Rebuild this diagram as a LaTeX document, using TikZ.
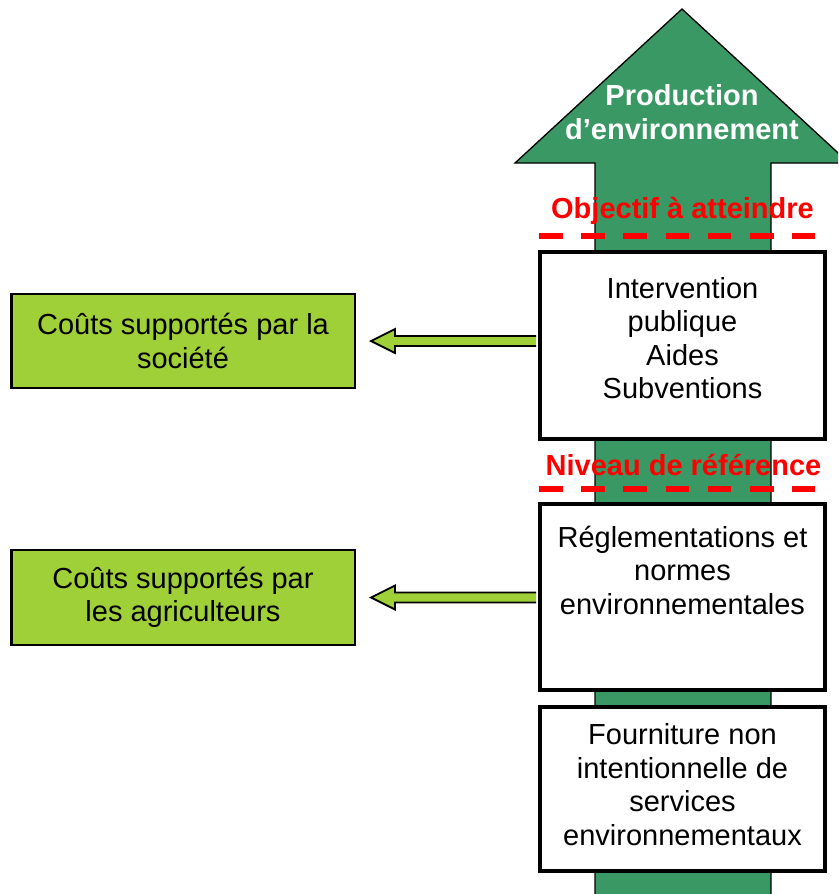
\documentclass[tikz,border=0pt]{standalone}
\usepackage{fontspec}
\setmainfont{Liberation Sans}
\usetikzlibrary{calc}
\definecolor{arrowgreen}{RGB}{58,152,100}
\definecolor{limefill}{RGB}{160,208,56}
\definecolor{redlbl}{RGB}{255,0,0}
\begin{document}
\begin{tikzpicture}[x=1pt,y=-1pt,
  box/.style={draw=black, line width=4pt, fill=white, minimum width=285pt, inner sep=0pt},
  boxtext/.style={align=center, inner sep=0pt, font=\fontsize{29}{33.5}\selectfont},
  costbox/.style={draw=black, line width=2.5pt, fill=limefill, minimum width=343.5pt,
    minimum height=94pt, inner sep=0pt, align=center, font=\fontsize{29}{33.5}\selectfont},
  titletext/.style={align=center, inner sep=0pt, text=white, font=\bfseries\fontsize{29}{34}\selectfont},
  lvl/.style={inner sep=0pt, text=redlbl, font=\bfseries\fontsize{29}{34}\selectfont},
  lvldash/.style={draw=redlbl, line width=6pt, dash pattern=on 23.5pt off 18.7pt},
  fatfill/.style={fill=limefill},
  fatline/.style={draw=black, line width=1.8pt, line join=miter}]
\useasboundingbox (0,0) rectangle (838,894);
% big upward arrow
\begin{scope}
  \clip (0,0) rectangle (838,894);
  \filldraw[fill=arrowgreen, draw=black, line width=1.3pt]
    (595,900) -- (595,163) -- (515,163) -- (682,9) -- (849,163) -- (771,163) -- (771,900) -- cycle;
\end{scope}
\node[titletext] (prod) at (682,112.5) {Production\\d’environnement};
% level labels and dashed lines
\node[lvl] (obj) at (682.5,210.5) {Objectif à atteindre};
\coordinate (objL) at (539,236);
\coordinate (objR) at (815,236);
\draw[lvldash] (objL) -- (objR);
\node[lvl] (niv) at (683.5,465) {Niveau de référence};
\coordinate (nivL) at (539,489);
\coordinate (nivR) at (815,489);
\draw[lvldash] (nivL) -- (nivR);
% right boxes
\node[box, minimum height=187pt] (b1) at (682.5,345.5) {};
\node[boxtext] (t1) at (682.5,338) {Intervention\\publique\\Aides\\Subventions};
\node[box, minimum height=186pt] (b2) at (682.5,597) {};
\node[boxtext] (t2) at (682.5,570) {Réglementations et\\normes\\environnementales};
\node[box, minimum height=164pt] (b3) at (682.5,789) {};
\node[boxtext] (t3) at (682.5,784.5) {Fourniture non\\intentionnelle de\\services\\environnementaux};
% left cost boxes
\node[costbox] (l1) at (183,341) {Coûts supportés par la\\société};
\node[costbox, minimum height=95pt] (l2) at (183,597.5) {Coûts supportés par\\les agriculteurs};
% fat arrows from right boxes to cost boxes
\foreach \src/\dst in {b1/l1, b2/l2}{
  \path let \p1=(\src.west), \p2=(\dst.east) in
    [fatfill] (\x1-2pt,\y2+5pt) -- (\x2+39pt,\y2+5pt) -- (\x2+39pt,\y2+12pt) -- (\x2+15pt,\y2)
      -- (\x2+39pt,\y2-12pt) -- (\x2+39pt,\y2-5pt) -- (\x1-2pt,\y2-5pt) -- cycle;
  \path let \p1=(\src.west), \p2=(\dst.east) in
    [fatline] (\x1-2pt,\y2+5pt) -- (\x2+39pt,\y2+5pt) -- (\x2+39pt,\y2+12pt) -- (\x2+15pt,\y2)
      -- (\x2+39pt,\y2-12pt) -- (\x2+39pt,\y2-5pt) -- (\x1-2pt,\y2-5pt);
}
\end{tikzpicture}
\end{document}
